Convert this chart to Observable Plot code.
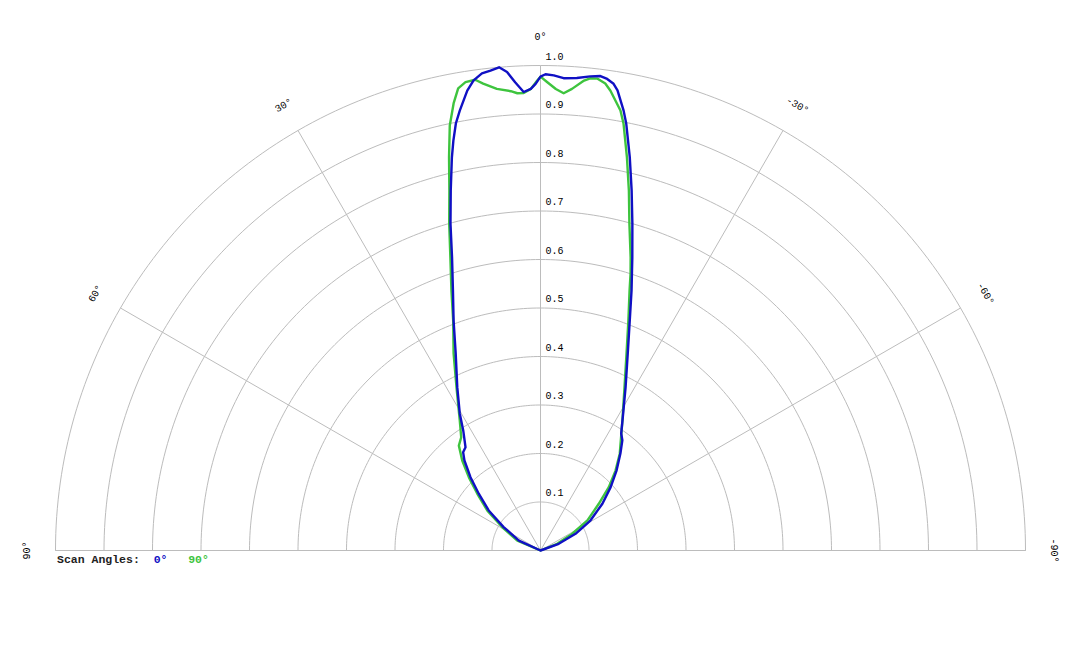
<!DOCTYPE html>
<html><head><meta charset="utf-8">
<script src="https://cdn.jsdelivr.net/npm/d3@7"></script>
<script src="https://cdn.jsdelivr.net/npm/@observablehq/plot@0.6"></script>
<style>
body{margin:0;background:#fff;}
#wrap{position:relative;width:1080px;height:648px;}
#legend{position:absolute;left:57px;top:553px;font:bold 11.5px "Liberation Mono","Courier New",monospace;color:#222;white-space:pre;}
</style></head><body><div id="wrap"></div>
<script>
// Scan 0° (blue): angle in degrees (positive = left), normalised intensity
const blueAngle = [90, 65.3, 57.6, 52.3, 47.4, 43.7, 40.2, 38.2, 36.0, 32.8, 30.5, 27.0, 23.3, 20.7, 18.6, 16.8, 15.4, 14.0, 12.7, 12.0, 11.2, 10.4, 9.05, 8.1, 7.0, 5.95, 4.9, 4.0, 3.1, 2.1, 1.2, 0.6, 0, -0.6, -1.6, -2.8, -4.4, -6.0, -7.2, -8.05, -8.9, -9.5, -10.7, -11.35, -12.8, -14.2, -15.7, -17.4, -19.3, -21.2, -23.9, -27.5, -31.1, -34.6, -36.6, -39.5, -43.5, -47.9, -52.9, -59.0, -64.5, -69.9, -90];
const blueGain = [0, 0.049, 0.090, 0.135, 0.173, 0.209, 0.243, 0.258, 0.263, 0.294, 0.328, 0.378, 0.442, 0.507, 0.566, 0.631, 0.699, 0.765, 0.831, 0.864, 0.898, 0.922, 0.960, 0.979, 0.991, 0.995, 1.000, 0.989, 0.967, 0.946, 0.952, 0.962, 0.977, 0.982, 0.980, 0.975, 0.977, 0.983, 0.986, 0.982, 0.974, 0.962, 0.923, 0.898, 0.831, 0.766, 0.700, 0.633, 0.568, 0.509, 0.444, 0.380, 0.330, 0.293, 0.283, 0.259, 0.228, 0.195, 0.160, 0.120, 0.080, 0.040, 0];
// Scan 90° (green)
const greenAngle = [90, 66.8, 58.7, 53.1, 48.1, 44.4, 41.0, 37.9, 35.0, 31.8, 27.2, 23.8, 20.8, 18.9, 17.1, 15.6, 14.2, 13.1, 12.05, 11.0, 10.1, 9.1, 7.9, 7.0, 5.4, 3.7, 2.9, 2.1, 1.2, 0.4, 0, -0.8, -1.9, -2.9, -3.9, -5.3, -6.0, -6.9, -7.9, -8.65, -10.3, -11.0, -12.4, -13.8, -15.2, -17.1, -18.0, -18.9, -20.9, -23.6, -27.2, -32.2, -39.3, -43.2, -47.2, -51.3, -57.3, -62.2, -68.1, -90];
const greenGain = [0, 0.052, 0.092, 0.137, 0.175, 0.211, 0.246, 0.274, 0.285, 0.316, 0.379, 0.444, 0.507, 0.567, 0.632, 0.700, 0.766, 0.832, 0.896, 0.939, 0.968, 0.978, 0.980, 0.970, 0.956, 0.949, 0.944, 0.944, 0.952, 0.969, 0.977, 0.966, 0.952, 0.944, 0.954, 0.973, 0.979, 0.980, 0.972, 0.959, 0.922, 0.897, 0.830, 0.764, 0.699, 0.632, 0.601, 0.567, 0.508, 0.443, 0.379, 0.317, 0.258, 0.226, 0.192, 0.154, 0.115, 0.074, 0.037, 0];

const ringValues = [0.1, 0.2, 0.3, 0.4, 0.5, 0.6, 0.7, 0.8, 0.9, 1.0];
const spokeAngles = [90, 60, 30, 0, -30, -60, -90];
const scanNames = ["0°", "90°"];
const scanColors = ["#1010c4", "#3ec43e"];

const rad = Math.PI / 180;
const toX = (a, r) => -r * Math.sin(a * rad);
const toY = (a, r) => r * Math.cos(a * rad);

const bluePts = blueAngle.map((a, i) => ({angle: a, gain: blueGain[i]}));
const greenPts = greenAngle.map((a, i) => ({angle: a, gain: greenGain[i]}));
const ringPts = ringValues.flatMap(r => d3.range(-90, 90.5, 1).map(a => ({r, a})));

const mono = '"Liberation Mono","Courier New",monospace';

const chart = Plot.plot({
  width: 1080, height: 648,
  marginLeft: 55, marginRight: 55, marginTop: 65, marginBottom: 98,
  x: {domain: [-1, 1], axis: null},
  y: {domain: [0, 1], axis: null},
  style: {fontFamily: mono, background: "#fff", overflow: "visible"},
  marks: [
    Plot.line(ringPts, {x: d => toX(d.a, d.r), y: d => toY(d.a, d.r), z: "r", stroke: "#bcbcbc", strokeWidth: 1}),
    Plot.link(spokeAngles, {x1: () => 0, y1: () => 0, x2: a => toX(a, 1), y2: a => toY(a, 1), stroke: "#bcbcbc", strokeWidth: 1}),
    Plot.text(ringValues, {x: () => 0, y: r => r, text: r => r.toFixed(1), dx: 5, dy: -9, textAnchor: "start", fontSize: 10, fill: "#000"}),
    Plot.text(spokeAngles, {x: a => toX(a, 1.06), y: a => toY(a, 1.06), rotate: a => -a, text: a => a + "°", fontSize: 10, fill: "#000"}),
    Plot.line(greenPts, {x: d => toX(d.angle, d.gain), y: d => toY(d.angle, d.gain), stroke: scanColors[1], strokeWidth: 2.4}),
    Plot.line(bluePts, {x: d => toX(d.angle, d.gain), y: d => toY(d.angle, d.gain), stroke: scanColors[0], strokeWidth: 2.4})
  ]
});
const wrap = document.getElementById("wrap");
wrap.appendChild(chart);
const legend = document.createElement("div");
legend.id = "legend";
legend.innerHTML = 'Scan Angles:  ' + scanNames.map((n, i) => `<span style="color:${scanColors[i]}">${n}</span>`).join('   ');
wrap.appendChild(legend);
</script>
</body></html>
